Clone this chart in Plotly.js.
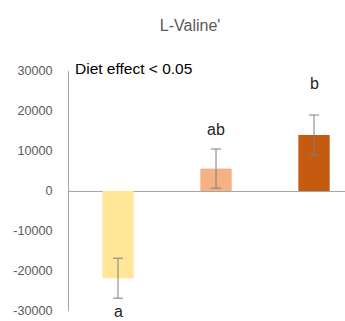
<!DOCTYPE html>
<html><head><meta charset="utf-8">
<script src="https://cdn.plot.ly/plotly-3.0.1.min.js"></script>
<style>html,body{margin:0;padding:0;background:#fff}#chart{width:345px;height:321px}</style>
</head><body><div id="chart"></div>
<script>
var groups = [0, 1, 2];
var values = [-21800, 5600, 14000];
var errors = [5000, 4900, 5000];
var letters = ['a', 'ab', 'b'];
var letterY = [-30000, 15300, 27000];
var colors = ['#FFE699', '#F4B183', '#C55A11'];
var yTicks = [-30000, -20000, -10000, 0, 10000, 20000, 30000];

var trace = {
  type: 'bar', x: groups, y: values, width: 0.32,
  marker: {color: colors, line: {width: 0}},
  error_y: {type: 'data', array: errors, visible: true, color: '#7f7f7f', thickness: 1, width: 5},
  hoverinfo: 'none'
};
var annotations = groups.map(function(g, i){
  var below = i === 0;
  return {x: g, y: letterY[i], yshift: below ? -10 : 0, xref: 'x', yref: 'y', text: letters[i], showarrow: false,
    borderpad: 0,
    font: {family: 'Liberation Sans, Arial', size: 16, color: '#262626'}, yanchor: below ? 'bottom' : 'middle'};
});
annotations.push({xref: 'paper', yref: 'paper', x: 0.015, y: 1.01, xanchor: 'left', yanchor: 'middle',
  text: 'Diet effect < 0.05', showarrow: false,
  font: {family: 'Liberation Sans, Arial', size: 15.5, color: '#000'}});

var layout = {
  width: 345, height: 321,
  margin: {l: 69, r: 0, t: 71, b: 10},
  paper_bgcolor: '#fff', plot_bgcolor: '#fff',
  showlegend: false,
  title: {text: "L-Valine'", xref: 'container', yref: 'container', x: 0.551, y: 0.922,
    xanchor: 'center', yanchor: 'middle',
    font: {family: 'Liberation Sans, Arial', size: 16, color: '#595959'}},
  xaxis: {range: [-0.5, 2.316], showticklabels: false, ticks: '', showgrid: false,
    zeroline: false, showline: false, fixedrange: true},
  yaxis: {range: [-30000, 30000], tickvals: yTicks, ticktext: yTicks.map(String),
    showgrid: false, zeroline: true, zerolinecolor: '#a6a6a6', zerolinewidth: 1,
    showline: true, linecolor: '#a6a6a6', linewidth: 1,
    ticks: 'outside', ticklen: 13, tickcolor: 'rgba(0,0,0,0)',
    tickfont: {family: 'Liberation Sans, Arial', size: 12.6, color: '#595959'}},
  annotations: annotations
};
Plotly.newPlot('chart', [trace], layout, {staticPlot: true, displayModeBar: false});
</script></body></html>
